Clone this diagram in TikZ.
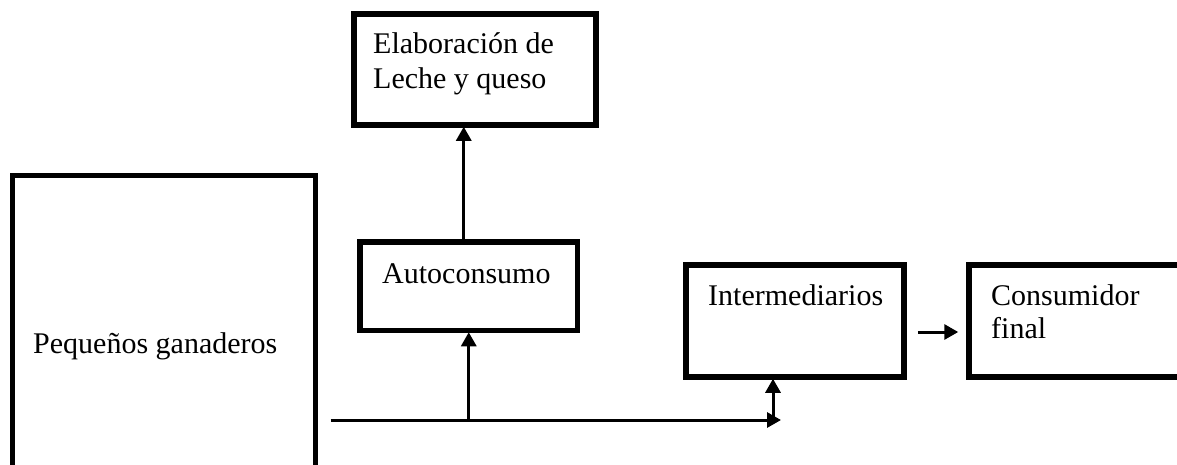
\documentclass[tikz,border=0pt]{standalone}
\usepackage{fontspec}
\setmainfont{Liberation Serif}
\usetikzlibrary{arrows.meta,calc,positioning}
\tikzset{
  box/.style = {
    draw,
    line width=5.5pt,
    rectangle,
    inner sep=0pt
  },
  lbl/.style = {
    inner sep=0pt,
    anchor=base west,
    font=\fontsize{30}{36}\selectfont
  },
  arc/.style = {
    -{Triangle[length=14pt,width=15pt]},
    line width=3pt,
    shorten >=-1pt
  }
}

\begin{document}
\begin{tikzpicture}[x=1pt,y=-1pt]
		\useasboundingbox (0,0) rectangle (1177,464);
		% boxes, given by their centres
		\node[box] (pg) at (163.75,330) [minimum width=303pt, minimum height=309pt] {};
		\node[box] (elab) at (475,69.5) [minimum width=242pt, minimum height=111pt] {};
		\node[box] (auto) at (468.75,286.25) [minimum width=217.5pt, minimum height=88.5pt] {};
		\node[box] (int) at (795,321) [minimum width=218pt, minimum height=112pt] {};
		\node[box] (cons) at (1090,321) [minimum width=242pt, minimum height=112pt] {};
%		
		\node[lbl] (pgtxt) at (33,353) {Pequeños ganaderos};
		\node[lbl] (elabtxt) at (373,53) {Elaboración de};
		\node[lbl] (elabtxtb) at (373,88) {Leche y queso};
		\node[lbl] (autotxt) at (382,283) {Autoconsumo};
		\node[lbl] (inttxt) at (708,305) {Intermediarios};
		\node[lbl] (constxt) at (991,305) {Consumidor};
		\node[lbl] (constxtb) at (991,338) {final};
%		
		\coordinate (mainend) at (780,420);
		
		\path[arc]   ([xshift=12.5pt]pg.east |- mainend) edge   (mainend);
		\path[arc]   (auto.south |- mainend) edge   (auto.south);
		\path[arc]   ([xshift=-7pt]mainend) edge   ([xshift=-7pt]mainend |- int.south);
		\path[arc]   ([xshift=-5pt]auto.north) edge   ([xshift=-5pt]auto.north |- elab.south);
		\path[arc]   ([shift={(11pt,-11pt)}]int.east) edge   ([shift={(-9pt,-11pt)}]cons.west);
	\end{tikzpicture}
\end{document}
